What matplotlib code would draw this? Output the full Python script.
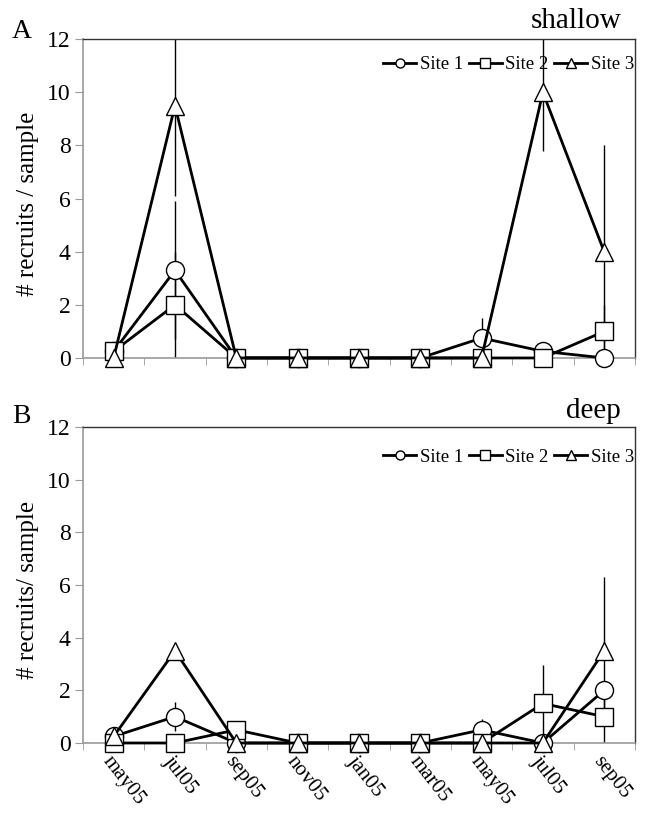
import numpy as np
import matplotlib
matplotlib.use("Agg")
import matplotlib.pyplot as plt

plt.rcParams['font.family'] = ['Liberation Serif', 'DejaVu Serif']

months = ["may05", "jul05", "sep05", "nov05", "jan05", "mar05", "may05", "jul05", "sep05"]
sites = ["Site 1", "Site 2", "Site 3"]

# shallow
shallow_mean = [
    [0.25, 3.3, 0, 0, 0, 0, 0.75, 0.25, 0],
    [0.25, 2.0, 0, 0, 0, 0, 0, 0, 1.0],
    [0, 9.5, 0, 0, 0, 0, 0, 10.0, 4.0],
]
shallow_err = [
    [0, 2.6, 0, 0, 0, 0, 0.75, 0, 0],
    [0, 2.0, 0, 0, 0, 0, 0, 0, 1.0],
    [0, 3.4, 0, 0, 0, 0, 0, 2.2, 4.0],
]

# deep
deep_mean = [
    [0.25, 1.0, 0, 0, 0, 0, 0.5, 0, 2.0],
    [0, 0, 0.5, 0, 0, 0, 0, 1.5, 1.0],
    [0.25, 3.5, 0, 0, 0, 0, 0, 0, 3.5],
]
deep_err = [
    [0, 0.55, 0, 0, 0, 0, 0.4, 0, 0],
    [0, 0, 0, 0, 0, 0, 0, 1.45, 1.0],
    [0, 0, 0, 0, 0, 0, 0, 0, 2.8],
]

markers = ["o", "s", "^"]
x = np.arange(len(months))


def panel(ax, means, errs, ylabel, leg_y, show_labels):
    for m, e, mk, name in zip(means, errs, markers, sites):
        e = np.array(e)
        ax.errorbar(x, m, yerr=e, fmt="none", ecolor="black", elinewidth=1.0,
                    capsize=0, zorder=1)
        ax.plot(x, m, color="black", lw=2.0, marker=mk, ms=13, mfc="white",
                mec="black", mew=1.0, clip_on=False, zorder=3, label=name)
    ax.set_xlim(-0.5, len(months) - 0.5)
    ax.set_ylim(0, 12)
    ax.set_yticks(np.arange(0, 13, 2))
    ax.set_xticks(x)
    ax.set_xticks(np.arange(-0.5, len(months)), minor=True)
    ax.tick_params(axis="x", which="major", length=0, pad=7, labelsize=15)
    ax.tick_params(axis="x", which="minor", length=5, color="#999999", direction="out")
    ax.tick_params(axis="y", length=6, color="#999999", labelsize=17, pad=3)
    if show_labels:
        ax.set_xticklabels(months, rotation=-52, ha="left", rotation_mode="anchor")
    else:
        ax.set_xticklabels([])
    for side in ["left", "bottom"]:
        ax.spines[side].set_color("#999999")
        ax.spines[side].set_linewidth(1.2)
    for side in ["top", "right"]:
        ax.spines[side].set_color("#333333")
        ax.spines[side].set_linewidth(1.0)
    ax.text(-0.1, 0.485, ylabel, rotation=90, ha="center", va="center",
            fontsize=18, transform=ax.transAxes)
    handles, labels = ax.get_legend_handles_labels()
    ax.legend(handles, labels, ncol=3, loc="center right", frameon=False,
              fontsize=13.5, handlelength=1.75, handletextpad=0.2,
              columnspacing=0.3, markerscale=0.5, borderaxespad=0.0,
              bbox_to_anchor=(1.012, leg_y))


fig = plt.figure(figsize=(6.5, 8.13), dpi=100)
ax1 = fig.add_axes([0.1277, 0.5597, 0.849, 0.392])
ax2 = fig.add_axes([0.1277, 0.0861, 0.849, 0.3887])

panel(ax1, shallow_mean, shallow_err, "# recruits / sample", 0.92, False)
panel(ax2, deep_mean, deep_err, "# recruits/ sample", 0.905, True)

fig.text(12 / 650, 1 - 38 / 813, "A", fontsize=20, va="baseline", ha="left")
fig.text(621 / 650, 1 - 28 / 813, "shallow", fontsize=21, va="baseline", ha="right")
fig.text(12 / 650, 1 - 423 / 813, "B", fontsize=20, va="baseline", ha="left")
fig.text(621 / 650, 1 - 418 / 813, "deep", fontsize=21, va="baseline", ha="right")

fig.savefig("out.png", dpi=100)
